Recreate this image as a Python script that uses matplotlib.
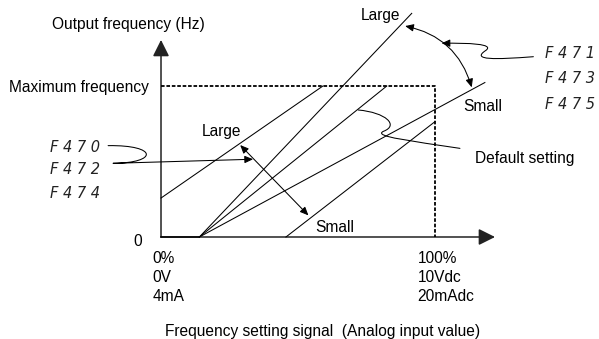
import matplotlib
matplotlib.use("Agg")
import matplotlib.pyplot as plt
from matplotlib.patches import FancyArrowPatch
from matplotlib.path import Path

plt.rcParams["font.family"] = ["Liberation Sans", "DejaVu Sans"]

# analog input (%) vs output frequency (% of maximum frequency)
pivot = 14.0
bias_large_x = [0, 59.1]
bias_large_y = [25.8, 100]
bias_small_x = [45.6, 100]
bias_small_y = [0, 76.4]
gain_large_x = [pivot, 91.5]
gain_large_y = [0, 148.1]
default_x = [pivot, 82.4]
default_y = [0, 100]
gain_small_x = [pivot, 118.2]
gain_small_y = [0, 102.3]
max_freq = 100
x_full = 100

tick0_labels = ["0%", "0V", "4mA"]
tick100_labels = ["100%", "10Vdc", "20mAdc"]
tick_rows = [-14.1, -26.6, -39.1]
left_codes = ["F 4 7 0", "F 4 7 2", "F 4 7 4"]
left_rows = [59.6, 44.4, 29.1]
right_codes = ["F 4 7 1", "F 4 7 3", "F 4 7 5"]
right_rows = [121.6, 105.0, 88.0]

fig = plt.figure(figsize=(5.99, 3.39), dpi=100)
ax = fig.add_axes([0, 0, 1, 1])
ax.set_xlim(-58.76, 159.85)
ax.set_ylim(-67.55, 156.95)
ax.axis("off")

lw = 0.75
# axes with arrows
ax.add_patch(FancyArrowPatch((0, 0), (121.9, 0), arrowstyle="-|>,head_length=1.0,head_width=0.5",
                             mutation_scale=10, color="#222222", lw=1.1, shrinkA=0, shrinkB=0))
ax.add_patch(FancyArrowPatch((0, 0), (0, 130.5), arrowstyle="-|>,head_length=1.0,head_width=0.5",
                             mutation_scale=10, color="#222222", lw=1.1, shrinkA=0, shrinkB=0))

# max frequency box (dashed)
ax.plot([0, x_full, x_full], [max_freq, max_freq, 0], color="black", lw=1.3,
        linestyle=(0, (2, 1)))

# characteristic lines
for xs, ys in [(bias_large_x, bias_large_y), (bias_small_x, bias_small_y),
               (gain_large_x, gain_large_y), (default_x, default_y),
               (gain_small_x, gain_small_y)]:
    ax.plot(xs, ys, color="black", lw=lw)
ax.plot([0, pivot], [0, 0], color="black", lw=1.1)

small_head = "<|-|>,head_length=0.5,head_width=0.22"
# bias arrow
ax.add_patch(FancyArrowPatch((28.9, 60.9), (53.8, 14.3), arrowstyle=small_head,
                             mutation_scale=10, color="black", lw=lw, shrinkA=0, shrinkB=0))
# gain arc arrow
ax.add_patch(FancyArrowPatch((89.1, 139.7), (113.4, 99.1), arrowstyle=small_head,
                             connectionstyle="arc3,rad=-0.3",
                             mutation_scale=10, color="black", lw=lw, shrinkA=0, shrinkB=0))

# leader from left codes
left_path = Path([(-19.3, 60.5), (-1, 61.0), (-1, 49.0), (-17.5, 48.8), (33.6, 51.5)],
                 [Path.MOVETO, Path.CURVE4, Path.CURVE4, Path.CURVE4, Path.LINETO])
ax.add_patch(FancyArrowPatch(path=left_path, arrowstyle="-|>,head_length=0.5,head_width=0.22",
                             mutation_scale=10, color="black", lw=lw))

# leader from right codes
right_path = Path([(135.9, 119.4), (122, 117.5), (113, 117.0), (118.5, 123.5),
                   (122, 128.0), (112, 128.5), (102.4, 128.3)],
                  [Path.MOVETO, Path.CURVE4, Path.CURVE4, Path.CURVE4,
                   Path.CURVE4, Path.CURVE4, Path.CURVE4])
ax.add_patch(FancyArrowPatch(path=right_path, arrowstyle="-|>,head_length=0.5,head_width=0.22",
                             mutation_scale=10, color="black", lw=lw))

# default setting leader
default_path = Path([(72.0, 84.1), (82, 82.5), (87, 74), (81.2, 70.0),
                     (77, 66.5), (92, 63.5), (109.1, 58.7)],
                    [Path.MOVETO, Path.CURVE4, Path.CURVE4, Path.CURVE4,
                     Path.CURVE4, Path.CURVE4, Path.CURVE4])
ax.add_patch(FancyArrowPatch(path=default_path, arrowstyle="-", color="black", lw=lw))

fs = 11.2
ax.text(-12.0, 140.4, "Output frequency (Hz)", ha="center", va="center", fontsize=fs)
ax.text(-4.4, 99.1, "Maximum frequency", ha="right", va="center", fontsize=fs)
ax.text(-8.4, -3.3, "0", ha="center", va="center", fontsize=fs)
for lab, row in zip(tick0_labels, tick_rows):
    ax.text(-3.0, row, lab, ha="left", va="center", fontsize=fs)
for lab, row in zip(tick100_labels, tick_rows):
    ax.text(93.7, row, lab, ha="left", va="center", fontsize=fs)
ax.text(59.1, -62.7, "Frequency setting signal  (Analog input value)", ha="center",
        va="center", fontsize=fs)
ax.text(22.2, 69.9, "Large", ha="center", va="center", fontsize=fs)
ax.text(63.5, 6.0, "Small", ha="center", va="center", fontsize=fs)
ax.text(80.1, 146.4, "Large", ha="center", va="center", fontsize=fs)
ax.text(117.5, 86.4, "Small", ha="center", va="center", fontsize=fs)
ax.text(132.8, 52.3, "Default setting", ha="center", va="center", fontsize=fs)

code_style = dict(va="center", fontsize=10.5, family="DejaVu Sans", style="oblique",
                  color="#222222")
for code, row in zip(left_codes, left_rows):
    ax.text(-22.3, row, code, ha="right", **code_style)
for code, row in zip(right_codes, right_rows):
    ax.text(140.1, row, code, ha="left", **code_style)

fig.savefig("out.png", dpi=100)
